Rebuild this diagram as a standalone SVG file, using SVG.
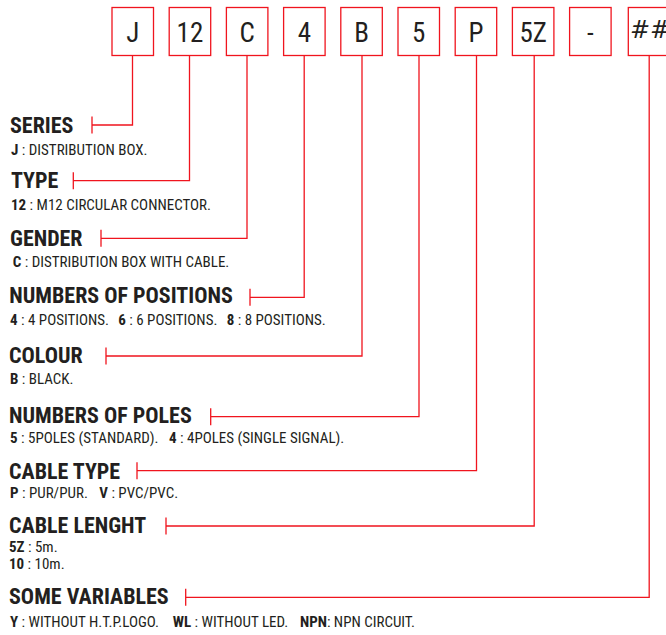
<svg xmlns="http://www.w3.org/2000/svg" width="666" height="635" viewBox="0 0 666 635">
<style>
.bx{fill:#fff;stroke:#f0141e;stroke-width:1.3}
.bt{font-family:"Liberation Sans Narrow","Roboto Condensed","DejaVu Sans Condensed",sans-serif;font-size:27px;fill:#231f20;text-anchor:middle}
.hd{font-family:"Liberation Sans Narrow","Roboto Condensed","DejaVu Sans Condensed",sans-serif;font-size:22px;font-weight:bold;fill:#231f20}
.tx{font-family:"Liberation Sans Narrow","Roboto Condensed","DejaVu Sans Condensed",sans-serif;font-size:15px;fill:#231f20}
.b{font-weight:bold}
.cn{fill:none;stroke:#f0141e;stroke-width:1.3}
</style>
<rect width="666" height="635" fill="#fff"/>
<g id="box-J"><rect class="bx" x="112" y="7.5" width="41.5" height="48"/><text class="bt" x="132.75" y="41.5">J</text></g>
<g id="box-12"><rect class="bx" x="169.2" y="7.5" width="41.5" height="48"/><text class="bt" x="189.95" y="41.5">12</text></g>
<g id="box-C"><rect class="bx" x="226.4" y="7.5" width="41.5" height="48"/><text class="bt" x="247.15" y="41.5">C</text></g>
<g id="box-4"><rect class="bx" x="283.6" y="7.5" width="41.5" height="48"/><text class="bt" x="304.35" y="41.5">4</text></g>
<g id="box-B"><rect class="bx" x="340.8" y="7.5" width="41.5" height="48"/><text class="bt" x="361.55" y="41.5">B</text></g>
<g id="box-5"><rect class="bx" x="398" y="7.5" width="41.5" height="48"/><text class="bt" x="418.75" y="41.5">5</text></g>
<g id="box-P"><rect class="bx" x="455.2" y="7.5" width="41.5" height="48"/><text class="bt" x="475.95" y="41.5">P</text></g>
<g id="box-5Z"><rect class="bx" x="512.4" y="7.5" width="41.5" height="48"/><text class="bt" x="533.15" y="41.5">5Z</text></g>
<g id="box-dash"><rect class="bx" x="569.6" y="7.5" width="41.5" height="48"/><text class="bt" x="590.35" y="41.5">-</text></g>
<g id="box-var"><rect class="bx" x="628.3" y="7.5" width="41.5" height="48"/><text x="630" y="38" style="font-family:'DejaVu Sans',sans-serif;font-style:italic;font-size:24px;fill:#231f20">##</text></g>

<g id="connectors">
<path class="cn" d="M132.5 55.5V125H92M92 116.5V133.5"/>
<path class="cn" d="M189.5 55.5V180.7H73.3M73.3 172.2V189.2"/>
<path class="cn" d="M247 55.5V238.3H101M101 229.8V246.8"/>
<path class="cn" d="M304.2 55.5V297.3H250M250 288.8V305.8"/>
<path class="cn" d="M362 55.5V356H106M106 347.5V364.5"/>
<path class="cn" d="M419 55.5V416.7H210.7M210.7 408.2V425.2"/>
<path class="cn" d="M476.5 55.5V470.7H137M137 462.2V479.2"/>
<path class="cn" d="M534.2 55.5V526H166M166 517.5V534.5"/>
<path class="cn" d="M649.2 55.5V597.3H185.7M185.7 588.8V605.8"/>
</g>

<g id="series"><text class="hd" x="10" y="133.3">SERIES</text><text class="tx" x="11" y="155"><tspan class="b">J</tspan> : DISTRIBUTION BOX.</text></g>
<g id="type"><text class="hd" x="11" y="188.3">TYPE</text><text class="tx" x="11" y="210"><tspan class="b">12</tspan> : M12 CIRCULAR CONNECTOR.</text></g>
<g id="gender"><text class="hd" x="10" y="245.7">GENDER</text><text class="tx" x="12.7" y="266.7"><tspan class="b">C</tspan> : DISTRIBUTION BOX WITH CABLE.</text></g>
<g id="positions"><text class="hd" x="9.3" y="303.3">NUMBERS OF POSITIONS</text><text class="tx" x="10" y="325"><tspan class="b">4</tspan> : 4 POSITIONS.<tspan class="b" x="118.3">6</tspan> : 6 POSITIONS.<tspan class="b" x="226.7">8</tspan> : 8 POSITIONS.</text></g>
<g id="colour"><text class="hd" x="9" y="362.5">COLOUR</text><text class="tx" x="10" y="384.3"><tspan class="b">B</tspan> : BLACK.</text></g>
<g id="poles"><text class="hd" x="9" y="422.7">NUMBERS OF POLES</text><text class="tx" x="10" y="443.3"><tspan class="b">5</tspan> : 5POLES (STANDARD).<tspan class="b" x="169">4</tspan> : 4POLES (SINGLE SIGNAL).</text></g>
<g id="cable-type"><text class="hd" x="9" y="479.3">CABLE TYPE</text><text class="tx" x="10" y="498.3"><tspan class="b">P</tspan> : PUR/PUR.<tspan class="b" x="99.3">V</tspan> : PVC/PVC.</text></g>
<g id="cable-length"><text class="hd" x="9" y="533.3">CABLE LENGHT</text><text class="tx" x="9" y="552.3"><tspan class="b">5Z</tspan> : 5m.</text><text class="tx" x="9" y="569"><tspan class="b">10</tspan> : 10m.</text></g>
<g id="variables"><text class="hd" x="9" y="604.3">SOME VARIABLES</text><text class="tx" x="10" y="626.7"><tspan class="b">Y</tspan> : WITHOUT H.T.P.LOGO.<tspan class="b" x="172.7">WL</tspan> : WITHOUT LED.<tspan class="b" x="300">NPN</tspan>: NPN CIRCUIT.</text></g>
</svg>
